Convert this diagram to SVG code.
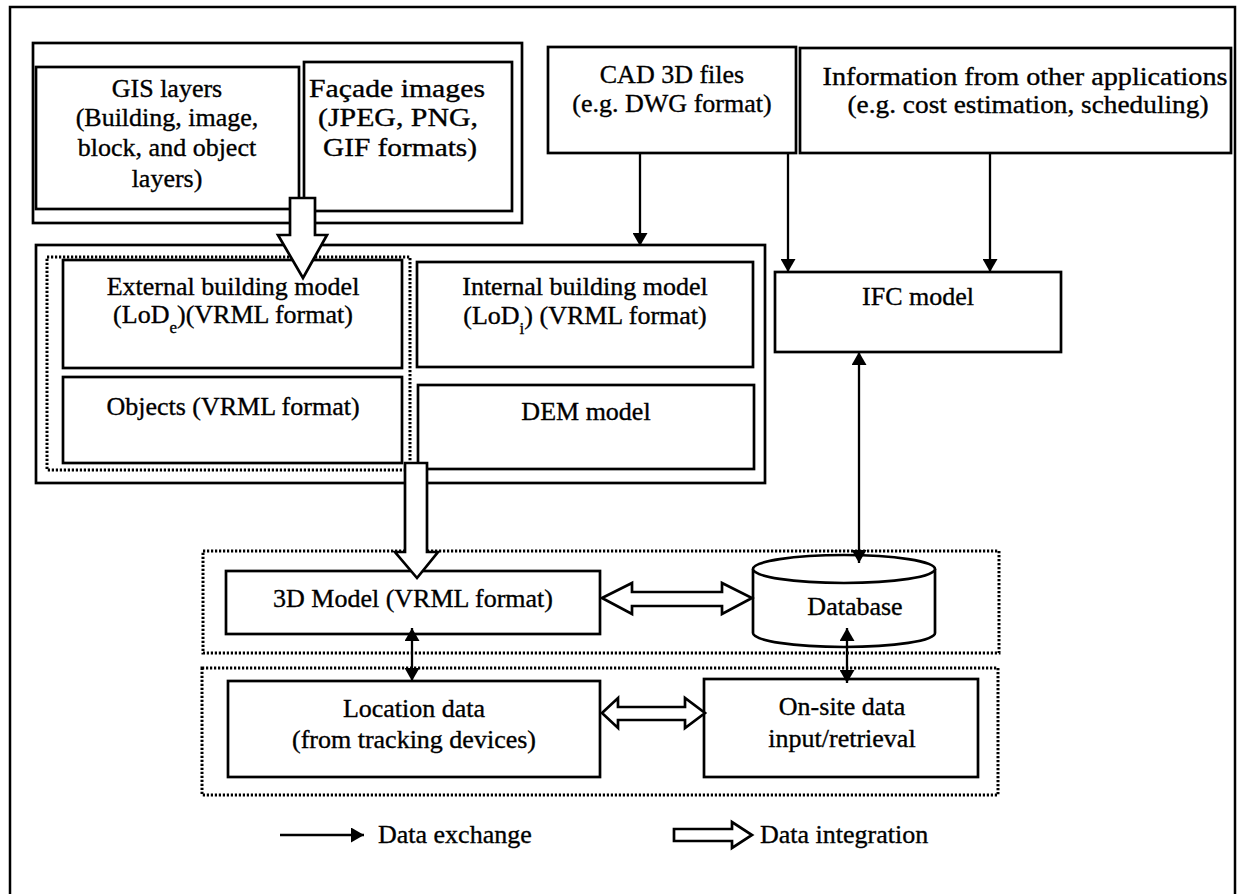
<svg xmlns="http://www.w3.org/2000/svg" width="1238" height="894" viewBox="0 0 1238 894">
<style>
.box{fill:#fff;stroke:#000;stroke-width:2.7}
.grp{fill:none;stroke:#000;stroke-width:2.7}
.dot{fill:none;stroke:#000;stroke-width:3;stroke-dasharray:2.2 1.8}
.t{font-family:"Liberation Serif","Times New Roman",serif;font-size:26px;fill:#000;stroke:#000;stroke-width:0.35;text-anchor:middle}
.tl{font-family:"Liberation Serif","Times New Roman",serif;font-size:26px;fill:#000;stroke:#000;stroke-width:0.35}
.ln{fill:none;stroke:#000;stroke-width:2.3}
.hol{fill:#fff;stroke:#000;stroke-width:2.7;stroke-linejoin:miter}
.sub{font-size:17px}
</style>
<defs>
<marker id="ah" viewBox="0 0 13 15" refX="13" refY="7.5" markerWidth="13" markerHeight="15" markerUnits="userSpaceOnUse" orient="auto-start-reverse">
<path d="M0,0 L13,7.5 L0,15 z" fill="#000"/>
</marker>
</defs>
<rect width="1238" height="894" fill="#fff"/>
<path d="M10,894 V7 H1235 V894" fill="none" stroke="#000" stroke-width="2.5"/>

<g id="sources-group">
<rect class="grp" x="33" y="43" width="489" height="180"/>
</g>
<g id="gis">
<rect class="box" x="36" y="67" width="263" height="142"/>
<text class="t" x="167" y="97">GIS layers</text>
<text class="t" x="167" y="126">(Building, image,</text>
<text class="t" x="167" y="156">block, and object</text>
<text class="t" x="167" y="187">layers)</text>
</g>
<g id="facade">
<rect class="box" x="304" y="62" width="208" height="149"/>
<text class="t" x="397" y="97" textLength="176" lengthAdjust="spacingAndGlyphs">Façade images</text>
<text class="t" x="398" y="126" textLength="160" lengthAdjust="spacingAndGlyphs">(JPEG, PNG,</text>
<text class="t" x="400" y="156" textLength="154" lengthAdjust="spacingAndGlyphs">GIF formats)</text>
</g>
<g id="cad">
<rect class="box" x="548" y="47" width="248" height="106"/>
<text class="t" x="672" y="83">CAD 3D files</text>
<text class="t" x="672" y="112">(e.g. DWG format)</text>
</g>
<g id="info">
<rect class="box" x="800" y="48" width="431" height="105"/>
<text class="t" x="1025" y="85" textLength="405" lengthAdjust="spacingAndGlyphs">Information from other applications</text>
<text class="t" x="1028" y="113" textLength="361" lengthAdjust="spacingAndGlyphs">(e.g. cost estimation, scheduling)</text>
</g>

<g id="models-group">
<rect class="grp" x="36" y="245" width="729" height="238"/>
<rect class="dot" x="47" y="257" width="363" height="213"/>
</g>
<g id="external">
<rect class="box" x="63" y="260" width="339" height="108"/>
<text class="t" x="233" y="295">External building model</text>
<text class="t" x="233" y="323">(LoD<tspan class="sub" baseline-shift="sub">e</tspan>)(VRML format)</text>
</g>
<g id="objects">
<rect class="box" x="63" y="377" width="339" height="86"/>
<text class="t" x="233" y="415">Objects (VRML format)</text>
</g>
<g id="internal">
<rect class="box" x="417" y="262" width="336" height="105"/>
<text class="t" x="585" y="295">Internal building model</text>
<text class="t" x="585" y="324">(LoD<tspan class="sub" baseline-shift="sub">i</tspan>) (VRML format)</text>
</g>
<g id="dem">
<rect class="box" x="418" y="385" width="336" height="84"/>
<text class="t" x="586" y="420">DEM model</text>
</g>
<g id="ifc">
<rect class="box" x="775" y="272" width="286" height="80"/>
<text class="t" x="918" y="305">IFC model</text>
</g>

<g id="integration-group">
<rect class="dot" x="203" y="551" width="796" height="102"/>
</g>
<g id="model3d">
<rect class="box" x="226" y="571" width="374" height="63"/>
<text class="t" x="413" y="607">3D Model (VRML format)</text>
</g>
<g id="database">
<path d="M753,569 V633 A91,14 0 0 0 935,633 V569" fill="#fff" stroke="#000" stroke-width="2.7"/>
<ellipse cx="844" cy="569" rx="91" ry="14" fill="#fff" stroke="#000" stroke-width="2.7"/>
<text class="t" x="855" y="615">Database</text>
</g>

<g id="field-group">
<rect class="dot" x="202" y="668" width="796" height="127"/>
</g>
<g id="location">
<rect class="box" x="228" y="681" width="372" height="96"/>
<text class="t" x="414" y="717">Location data</text>
<text class="t" x="414" y="748">(from tracking devices)</text>
</g>
<g id="onsite">
<rect class="box" x="704" y="679" width="274" height="98"/>
<text class="t" x="842" y="715">On-site data</text>
<text class="t" x="842" y="747">input/retrieval</text>
</g>

<g id="connectors">
<line class="ln" x1="640" y1="153" x2="640" y2="246" marker-end="url(#ah)"/>
<line class="ln" x1="788" y1="153" x2="788" y2="272" marker-end="url(#ah)"/>
<line class="ln" x1="990" y1="153" x2="990" y2="272" marker-end="url(#ah)"/>
<line class="ln" x1="859" y1="352" x2="859" y2="563" marker-start="url(#ah)" marker-end="url(#ah)"/>
<line class="ln" x1="412" y1="628" x2="412" y2="681" marker-start="url(#ah)" marker-end="url(#ah)"/>
<line class="ln" x1="847" y1="628" x2="847" y2="683" marker-start="url(#ah)" marker-end="url(#ah)"/>
<polygon class="hol" points="290,198 315,198 315,235 327,235 303,278 278,235 290,235"/>
<polygon class="hol" points="405,463 427,463 427,552 438,552 417,578 395,552 405,552"/>
<polygon class="hol" points="602,598 632,583 632,592 722,592 722,583 752,598 722,614 722,606 632,606 632,614"/>
<polygon class="hol" points="602,713 618,698 618,707 685,707 685,698 705,713 685,728 685,720 618,720 618,728"/>
</g>

<g id="legend">
<line class="ln" x1="280" y1="835" x2="364" y2="835" marker-end="url(#ah)"/>
<text class="tl" x="378" y="843">Data exchange</text>
<polygon class="hol" points="674,829 732,829 732,822 752,835 732,848 732,841 674,841"/>
<text class="tl" x="760" y="843">Data integration</text>
</g>
</svg>
